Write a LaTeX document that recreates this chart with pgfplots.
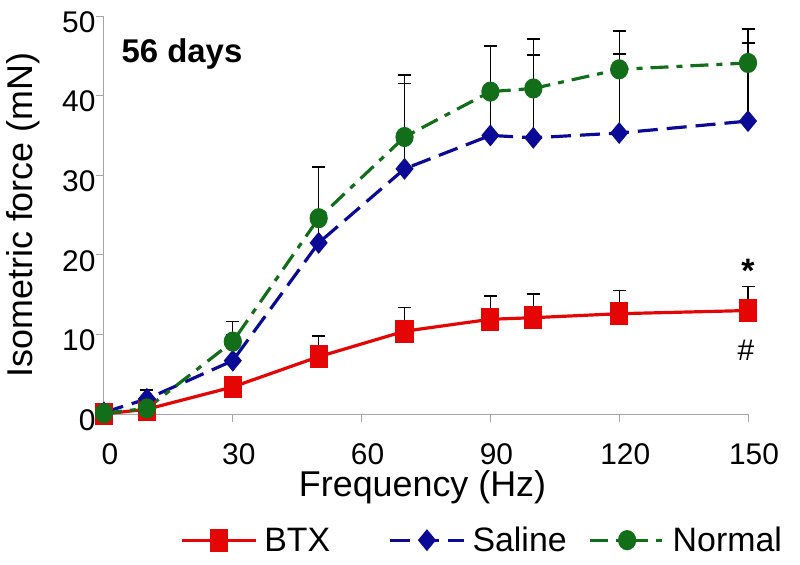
\documentclass[border=0pt]{standalone}
\usepackage{fontspec}
\setmainfont{Liberation Sans}
\usepackage{pgfplots}
\pgfplotsset{compat=1.18}
\definecolor{cred}{RGB}{230,5,5}
\definecolor{cblue}{RGB}{10,10,150}
\definecolor{cgreen}{RGB}{18,110,24}
\begin{document}
\begin{tikzpicture}
\begin{axis}[
  at={(0,0)}, anchor=south west,
  scale only axis, width=644bp, height=398bp,
  xmin=0, xmax=150, ymin=0, ymax=50,
  xtick={0,30,60,90,120,150}, ytick={0,10,20,30,40,50},
  axis x line*=bottom, axis y line*=left,
  axis line style={draw=gray!70, line width=1pt, -},
  tick align=outside, major tick length=8bp,
  tick style={draw=gray!70, line width=1pt},
  /pgf/number format/assume math mode=true,
  tick label style={font=\fontsize{30}{34}\selectfont},
  xticklabel style={yshift=-18bp, xshift=6bp},
  yticklabel style={xshift=3bp, yshift=-6bp},
  xlabel={Frequency (Hz)}, ylabel={Isometric force (mN)},
  label style={font=\fontsize{36}{40}\selectfont},
  xlabel style={at={(axis description cs:0.4946,-0.2085)}, anchor=base},
  ylabel style={at={(axis description cs:-0.125,0.5)}, anchor=center},
  clip=false,
  legend columns=3,
  legend style={at={(axis description cs:0.118,-0.317)}, anchor=west, draw=none, fill=none, inner sep=0pt, font=\fontsize{34}{38}\selectfont, /tikz/every even column/.append style={column sep=0bp}, /tikz/every odd column/.append style={column sep=5bp}},
  legend image code/.code={\draw[mark repeat=2,mark phase=2,#1] plot coordinates {(0bp,0bp)(37bp,0bp)(74bp,0bp)};},
  error bars/y dir=plus, error bars/y explicit,
  error bars/error mark options={rotate=90, mark size=6.5bp, line width=1.6pt, black},
  error bars/error bar style={black, line width=1.3pt, solid},
]
\addplot[cred, line width=3.2pt, mark=square*, mark size=7.5bp, mark options={solid, yscale=1.3}] table[x=x, y=y, y error=e] {
x y e
0 0 0
10 0.6 0.3
30 3.4 0.5
50 7.2 2.6
70 10.4 3.0
90 11.9 2.9
100 12.1 3.0
120 12.6 2.9
150 13.0 3.0
};
\addlegendentry{\makebox[122bp][l]{BTX}}
\addplot[cblue, line width=3.2pt, dash pattern=on 20bp off 9bp, mark=diamond*, mark size=8.5bp, mark options={solid, xscale=1.1}] table[x=x, y=y, y error=e] {
x y e
0 0.2 0
10 1.9 1.1
30 6.7 3.3
50 21.5 9.5
70 30.8 10.7
90 35.0 11.2
100 34.7 10.4
120 35.3 9.9
150 36.8 9.8
};
\addlegendentry{\makebox[114bp][l]{Saline}}
\addplot[cgreen, line width=3.2pt, dash pattern=on 18bp off 8bp on 6bp off 8bp, mark=*, mark size=7.5bp, mark options={solid, yscale=1.13}] table[x=x, y=y, y error=e] {
x y e
0 0.1 0
10 0.7 0.3
30 9.1 2.5
50 24.6 6.5
70 34.8 7.8
90 40.5 5.7
100 40.9 6.2
120 43.3 4.8
150 44.1 4.3
};
\addlegendentry{Normal}
\node[anchor=base west, font=\fontsize{33}{36}\selectfont\bfseries] at (axis description cs:0.022,0.882) {56 days};
\node[font=\fontsize{34}{36}\selectfont\bfseries] at (axis cs:150,18.0) {*};
\node[font=\fontsize{30}{34}\selectfont] at (axis cs:149.5,8.0) {\#};
\end{axis}
\pgfresetboundingbox
\path[use as bounding box] (-104bp,-151bp) rectangle (696bp,414bp);
\end{tikzpicture}
\end{document}
